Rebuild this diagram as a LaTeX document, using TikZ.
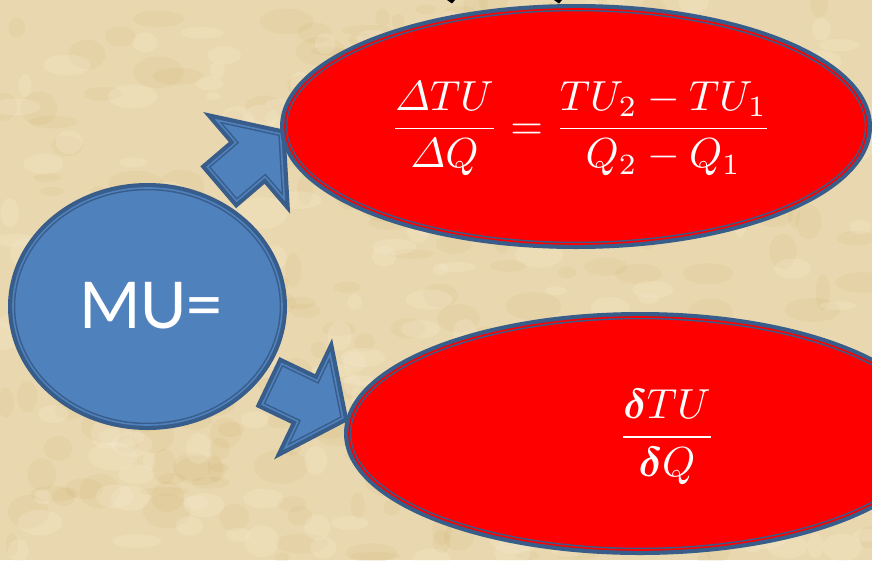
\documentclass[tikz,border=0pt]{standalone}
\usepackage{amsmath,bm}
\usepackage{graphicx}
\usepackage{fontspec}
\newfontfamily\carlito{Carlito}
\usetikzlibrary{shapes.geometric}
\definecolor{bg}{HTML}{E9D8AF}
\definecolor{bgdark}{HTML}{D2B47A}
\definecolor{bglight}{HTML}{F6ECD2}
\definecolor{dkblue}{HTML}{385D8A}
\definecolor{ltblue}{HTML}{4F81BD}
\definecolor{rd}{HTML}{FF0000}
\tikzset{
  outerband/.style={draw=dkblue, line width=10pt},
  compound/.style={fill=#1, draw=dkblue, line width=1.5pt, double=#1, double distance=1.6pt},
  bubble/.style={ellipse, inner sep=0pt, compound=#1},
  band/.style={ellipse, inner sep=0pt, outerband},
  formula/.style={text=white, inner sep=0pt},
  blockarrow/.style={compound=ltblue}
}
\def\arrowA{(0,-22.5) -- (37.5,-22.5) -- (37.5,-52) -- (77,0) -- (37.5,52) -- (37.5,22.5) -- (0,22.5) -- cycle}
\def\arrowB{(0,-22.5) -- (39.5,-22.5) -- (39.5,-52) -- (78.5,0) -- (39.5,52) -- (39.5,22.5) -- (0,22.5) -- cycle}
\begin{document}
\begin{tikzpicture}[x=1pt,y=-1pt]
\clip (0,0) rectangle (872,560);
\fill[bg] (0,0) rectangle (872,560);
% parchment texture
\pgfmathsetseed{7}
\foreach \i in {1,...,260}{
  \pgfmathsetmacro{\px}{rnd*872}
  \pgfmathsetmacro{\py}{rnd*560}
  \pgfmathsetmacro{\rx}{6+rnd*22}
  \pgfmathsetmacro{\ry}{4+rnd*14}
  \fill[bgdark, opacity=0.16] (\px,\py) ellipse [x radius=\rx, y radius=\ry];
}
\foreach \i in {1,...,200}{
  \pgfmathsetmacro{\px}{rnd*872}
  \pgfmathsetmacro{\py}{rnd*560}
  \pgfmathsetmacro{\rx}{6+rnd*20}
  \pgfmathsetmacro{\ry}{4+rnd*12}
  \fill[bglight, opacity=0.25] (\px,\py) ellipse [x radius=\rx, y radius=\ry];
}
% tiny arrow tips cut off at the top
\fill[black] (447,0) -- (455,0) -- (452,3.5) -- cycle;
\fill[black] (554,0) -- (562,0) -- (559,3.5) -- cycle;
% block arrows
\coordinate (a1) at (222,184);
\coordinate (a2) at (272,384);
\begin{scope}[shift={(a1)}, rotate=40.5]
  \draw[outerband] \arrowA;
  \draw[blockarrow] \arrowA;
\end{scope}
\begin{scope}[shift={(a2)}, rotate=-25.6]
  \draw[outerband] \arrowB;
  \draw[blockarrow] \arrowB;
\end{scope}
% shapes
\node[band, minimum width=269pt, minimum height=237pt] at (147.5,306.5) {};
\node[bubble=ltblue, minimum width=269pt, minimum height=237pt] (mu) at (147.5,306.5) {};
\node[band, minimum width=582pt, minimum height=235pt] at (576,126.5) {};
\node[bubble=rd, minimum width=582pt, minimum height=235pt] (top) at (576,126.5) {};
\node[band, minimum width=582pt, minimum height=233pt] at (640,433.5) {};
\node[bubble=rd, minimum width=582pt, minimum height=233pt] (bot) at (640,433.5) {};
% texts
\node[text=white, inner sep=0pt, font=\carlito\fontsize{72}{80}\selectfont] (mutext) at (151,306) {MU=};
\node[formula] (f1) at (581,129) {\scalebox{4.2}{$\displaystyle \frac{\varDelta TU}{\varDelta Q}=\frac{TU_2-TU_1}{Q_2-Q_1}$}};
\node[formula] (f2) at (667,437) {\scalebox{4.2}{$\displaystyle \frac{\boldsymbol{\delta} TU}{\boldsymbol{\delta} Q}$}};
\end{tikzpicture}
\end{document}
